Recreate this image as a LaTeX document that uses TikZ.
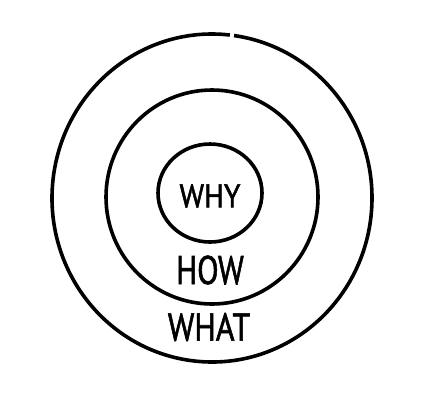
\documentclass[tikz,border=0pt]{standalone}
\usepackage{fontspec}
\setmainfont{PT Sans}
\newfontfamily\lblfont[FakeBold=1.6]{PT Sans}
\begin{document}
\begin{tikzpicture}[x=1pt,y=-1pt,
  ring/.style={line width=3.6pt},
  lbl/.style={inner sep=0pt,font=\lblfont\fontsize{40}{40}\selectfont}]
\useasboundingbox[fill=white] (0,0) rectangle (427,400);
% outer ring with small gap at top
\draw[ring] (212,198) ++(-83.6:160 and 164) arc[start angle=-83.6,end angle=-83.6-358.5,x radius=160,y radius=164];
\draw[ring] (212,197) ellipse[x radius=106,y radius=107];
\draw[ring] (210,193) ellipse[x radius=52,y radius=49];
\node[lbl] (why) at (210,196) {\scalebox{0.74}[0.82]{WHY}};
\node[lbl] (how) at (210,270) {\scalebox{0.78}[1.0]{HOW}};
\node[lbl] (what) at (209,327) {\scalebox{0.8}[0.97]{WHAT}};
\end{tikzpicture}
\end{document}
